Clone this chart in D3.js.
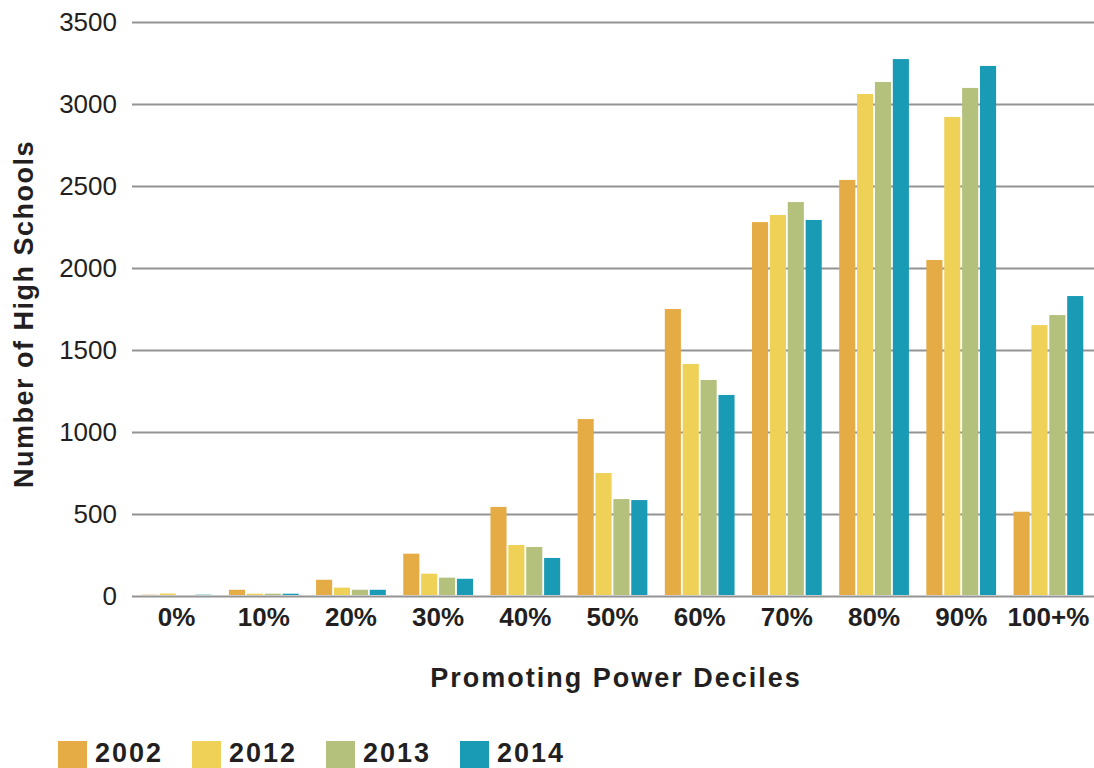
<!DOCTYPE html>
<html>
<head>
<meta charset="utf-8">
<script src="https://cdn.jsdelivr.net/npm/d3@7"></script>
<style>
  body { margin: 0; background: #fff; }
  svg { display: block; font-family: "Liberation Sans", Arial, sans-serif; }
  .grid line { stroke: #939393; stroke-width: 2; }
  .grid text { font-size: 26px; fill: #231f20; }
  .xaxis text { font-size: 26px; font-weight: bold; fill: #231f20; }
</style>
</head>
<body>
<script>
// categories and series
var deciles = ["0%", "10%", "20%", "30%", "40%", "50%", "60%", "70%", "80%", "90%", "100+%"];
var years = ["2002", "2012", "2013", "2014"];
var colors = ["#e5ac45", "#efd157", "#b4c17d", "#1a9bb5"];
var yTicks = [0, 500, 1000, 1500, 2000, 2500, 3000, 3500];

// values, one array per year
var v2002 = [8, 38, 99, 258, 543, 1079, 1750, 2280, 2537, 2049, 514];
var v2012 = [15, 14, 51, 136, 311, 750, 1415, 2323, 3061, 2921, 1652];
var v2013 = [5, 14, 38, 112, 299, 591, 1317, 2402, 3134, 3098, 1713];
var v2014 = [8, 14, 38, 105, 232, 585, 1226, 2293, 3274, 3232, 1829];
var series = [v2002, v2012, v2013, v2014];

// set the dimensions and margins of the graph
var margin = {top: 22, right: 0, bottom: 172, left: 132},
    width = 1094 - margin.left - margin.right,
    height = 768 - margin.top - margin.bottom;

var svg = d3.select("body").append("svg")
    .attr("width", 1094)
    .attr("height", 768);

var g = svg.append("g")
    .attr("transform", "translate(" + margin.left + "," + margin.top + ")");

// set the ranges
var x0 = d3.scaleBand().domain(deciles).range([1, 960])
    .paddingInner(0.2).paddingOuter(0.1);
var x1 = d3.scaleBand().domain(years).range([0, x0.bandwidth()]).paddingInner(0.1);
var y = d3.scaleLinear().domain([0, 3500]).range([height, 0]);

// grid lines with y labels
g.append("g")
    .attr("class", "grid")
    .call(d3.axisLeft(y).tickValues(yTicks).tickFormat(d3.format("d")).tickSize(-width).tickPadding(15))
    .call(function(s) { s.select(".domain").remove(); });

// bars
var groups = g.selectAll(".decile")
    .data(deciles)
    .enter().append("g")
    .attr("class", "decile")
    .attr("transform", function(d) { return "translate(" + x0(d) + ",0)"; });

groups.selectAll("rect")
    .data(function(d, i) { return years.map(function(yr, j) { return {year: yr, value: series[j][i], c: colors[j]}; }); })
    .enter().append("rect")
    .attr("x", function(d) { return x1(d.year); })
    .attr("width", x1.bandwidth())
    .attr("y", function(d) { return y(d.value); })
    .attr("height", function(d) { return y(0) - 1 - y(d.value); })
    .attr("fill", function(d) { return d.c; });

// x labels
g.append("g")
    .attr("class", "xaxis")
    .attr("transform", "translate(0," + height + ")")
    .call(d3.axisBottom(x0).tickSize(0).tickPadding(12))
    .call(function(s) { s.select(".domain").remove(); });

// axis titles
svg.append("text")
    .attr("x", 616)
    .attr("y", 687)
    .attr("text-anchor", "middle")
    .style("font-size", "27px")
    .style("font-weight", "bold")
    .style("letter-spacing", "2px")
    .style("fill", "#231f20")
    .text("Promoting Power Deciles");

svg.append("text")
    .attr("transform", "translate(33,314) rotate(-90)")
    .attr("text-anchor", "middle")
    .style("font-size", "27px")
    .style("font-weight", "bold")
    .style("letter-spacing", "1.5px")
    .style("fill", "#231f20")
    .text("Number of High Schools");

// legend
var legend = svg.selectAll(".legend")
    .data(years)
    .enter().append("g")
    .attr("class", "legend")
    .attr("transform", function(d, i) { return "translate(" + (58 + i * 134) + ",741)"; });

legend.append("rect")
    .attr("width", 29)
    .attr("height", 27)
    .attr("fill", function(d, i) { return colors[i]; });

legend.append("text")
    .attr("x", 37)
    .attr("y", 21)
    .style("font-size", "27px")
    .style("font-weight", "bold")
    .style("letter-spacing", "2px")
    .style("fill", "#231f20")
    .text(function(d) { return d; });
</script>
</body>
</html>
